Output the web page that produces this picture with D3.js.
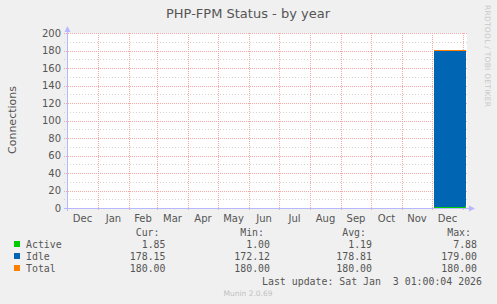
<!DOCTYPE html>
<html>
<head>
<meta charset="utf-8">
<script src="https://cdn.jsdelivr.net/npm/d3@7"></script>
<style>
  html, body { margin: 0; padding: 0; background: #f0f0f0; }
  svg { display: block; }
</style>
</head>
<body>
<script>
var width = 497,
    height = 304;

// samples (daily-ish averages) for the only month that has data
var dates = ["2025-12-03", "2025-12-10", "2025-12-17", "2025-12-24", "2025-12-31", "2026-01-03"];
var active = [1.2, 1.1, 1.2, 1.2, 1.2, 1.85];
var idle = [178.8, 178.9, 178.8, 178.8, 178.8, 178.15];
var total = [180, 180, 180, 180, 180, 180];

var months = ["Dec", "Jan", "Feb", "Mar", "Apr", "May", "Jun", "Jul", "Aug", "Sep", "Oct", "Nov", "Dec"];
var yTicks = [0, 20, 40, 60, 80, 100, 120, 140, 160, 180, 200];

var legendNames = ["Active", "Idle", "Total"];
var legendColors = ["#00cc00", "#0066b3", "#ff8000"];
var statHeads = ["Cur:", "Min:", "Avg:", "Max:"];
var stats = [
    ["1.85", "1.00", "1.19", "7.88"],
    ["178.15", "172.12", "178.81", "179.00"],
    ["180.00", "180.00", "180.00", "180.00"]
];

var parse = d3.utcParse("%Y-%m-%d");
var rows = dates.map(function(d, i) {
    return {t: parse(d), active: active[i], idle: idle[i], total: total[i]};
});
// end of last sample interval
var lastT = d3.utcDay.offset(rows[rows.length - 1].t, 1);

var x = d3.scaleUtc()
    .domain([parse("2024-12-01"), parse("2026-01-05")])
    .range([67, 467]);

var y = d3.scaleLinear()
    .domain([0, 200])
    .range([208, 33]);

var svg = d3.select("body").append("svg")
    .attr("width", width)
    .attr("height", height)
    .style("font-family", "'DejaVu Sans', sans-serif");

svg.append("rect").attr("width", width).attr("height", height).attr("fill", "#f0f0f0");

// plot canvas
svg.append("rect")
    .attr("x", 67).attr("y", 33)
    .attr("width", 400).attr("height", 175)
    .attr("fill", "#ffffff");

// title
svg.append("text")
    .attr("x", 248).attr("y", 18)
    .attr("text-anchor", "middle")
    .attr("font-size", 13)
    .attr("fill", "#555")
    .text("PHP-FPM Status - by year");

// rrdtool credit
svg.append("text")
    .attr("transform", "translate(485,5) rotate(90)")
    .attr("font-size", 7.5)
    .attr("textLength", 102)
    .attr("fill", "#c8c8c8")
    .text("RRDTOOL / TOBI OETIKER");

// minor horizontal grid
var minor = d3.range(10, 200, 20);
svg.append("g").selectAll("line").data(minor).enter().append("line")
    .attr("x1", 64).attr("x2", 467)
    .attr("y1", function(d) { return Math.round(y(d)) + 0.5; })
    .attr("y2", function(d) { return Math.round(y(d)) + 0.5; })
    .attr("stroke", "#d4d4d4")
    .attr("stroke-dasharray", "1,2");

// major horizontal grid
svg.append("g").selectAll("line").data(yTicks).enter().append("line")
    .attr("x1", 64).attr("x2", 467)
    .attr("y1", function(d) { return Math.round(y(d)) + 0.5; })
    .attr("y2", function(d) { return Math.round(y(d)) + 0.5; })
    .attr("stroke", "#f3a8a8")
    .attr("stroke-dasharray", "1,1");

// vertical month grid
var monthStarts = d3.utcMonth.range(parse("2025-01-01"), parse("2026-01-02"));
svg.append("g").selectAll("line").data(monthStarts).enter().append("line")
    .attr("x1", function(d) { return Math.round(x(d)) + 0.5; })
    .attr("x2", function(d) { return Math.round(x(d)) + 0.5; })
    .attr("y1", 33).attr("y2", 211)
    .attr("stroke", "#f3a8a8")
    .attr("stroke-dasharray", "1,1");

// stacked areas
var area = d3.area()
    .curve(d3.curveStepAfter)
    .x(function(d) { return x(d.t); });

var pts = rows.concat([{t: lastT, active: rows[rows.length - 1].active, idle: rows[rows.length - 1].idle, total: rows[rows.length - 1].total}]);

svg.append("path")
    .datum(pts)
    .attr("fill", legendColors[1])
    .attr("d", area.y0(function(d) { return y(d.active); }).y1(function(d) { return y(d.active + d.idle); }));

svg.append("path")
    .datum(pts)
    .attr("fill", legendColors[0])
    .attr("d", area.y0(function() { return y(0); }).y1(function(d) { return y(d.active); }));

svg.append("path")
    .datum(pts)
    .attr("fill", "none")
    .attr("stroke", legendColors[2])
    .attr("stroke-width", 1)
    .attr("d", d3.line().curve(d3.curveStepAfter)
        .x(function(d) { return x(d.t); })
        .y(function(d) { return y(d.total); }));

// axes lines with arrows
var axisCol = "#b8b8ff";
svg.append("line").attr("x1", 67.5).attr("x2", 67.5).attr("y1", 211).attr("y2", 30)
    .attr("stroke", axisCol);
svg.append("path").attr("d", "M64.5,32L67.5,26L70.5,32Z").attr("fill", axisCol);
svg.append("line").attr("x1", 64).attr("x2", 470).attr("y1", 208.5).attr("y2", 208.5)
    .attr("stroke", axisCol);
svg.append("path").attr("d", "M469,205.5L475,208.5L469,211.5Z").attr("fill", axisCol);

// y tick labels
svg.append("g").selectAll("text").data(yTicks).enter().append("text")
    .attr("x", 61)
    .attr("y", function(d) { return y(d) + 3.5; })
    .attr("text-anchor", "end")
    .attr("font-size", 10)
    .attr("fill", "#555")
    .text(function(d) { return d; });

// month labels, centered in each month
var monthCenters = d3.utcMonth.range(parse("2024-12-01"), parse("2026-01-01")).map(function(d) {
    return x(new Date((+d + +d3.utcMonth.offset(d, 1)) / 2));
});
svg.append("g").selectAll("text").data(months).enter().append("text")
    .attr("x", function(d, i) { return monthCenters[i]; })
    .attr("y", 222)
    .attr("text-anchor", "middle")
    .attr("font-size", 10)
    .attr("fill", "#555")
    .text(function(d) { return d; });

// y axis title
svg.append("text")
    .attr("transform", "translate(16,120) rotate(-90)")
    .attr("text-anchor", "middle")
    .attr("font-size", 11)
    .attr("fill", "#555")
    .text("Connections");

// legend
var mono = "'DejaVu Sans Mono', monospace";
var colRight = [165.5, 270, 372, 477];
var rowY = [248, 260, 272];

svg.append("g").selectAll("text").data(statHeads).enter().append("text")
    .attr("x", function(d, i) { return colRight[i] - 6; })
    .attr("y", 236)
    .attr("text-anchor", "end")
    .attr("font-family", mono)
    .attr("font-size", 9.9)
    .attr("fill", "#555")
    .text(function(d) { return d; });

legendNames.forEach(function(name, r) {
    svg.append("rect")
        .attr("x", 14).attr("y", rowY[r] - 7)
        .attr("width", 6).attr("height", 6)
        .attr("fill", legendColors[r]);
    svg.append("text")
        .attr("x", 26).attr("y", rowY[r])
        .attr("font-family", mono)
        .attr("font-size", 9.9)
        .attr("fill", "#555")
        .text(name);
    svg.append("g").selectAll("text").data(stats[r]).enter().append("text")
        .attr("x", function(d, i) { return colRight[i]; })
        .attr("y", rowY[r])
        .attr("text-anchor", "end")
        .attr("font-family", mono)
        .attr("font-size", 9.9)
        .attr("fill", "#555")
        .text(function(d) { return d; });
});

svg.append("text")
    .attr("x", 482).attr("y", 284.5)
    .attr("text-anchor", "end")
    .attr("font-family", mono)
    .attr("font-size", 9.9)
    .attr("fill", "#555")
    .attr("xml:space", "preserve")
    .style("white-space", "pre")
    .text("Last update: Sat Jan  3 01:00:04 2026");

svg.append("text")
    .attr("x", 248).attr("y", 295.5)
    .attr("text-anchor", "middle")
    .attr("font-size", 7.5)
    .attr("fill", "#c0c0c0")
    .text("Munin 2.0.69");
</script>
</body>
</html>
